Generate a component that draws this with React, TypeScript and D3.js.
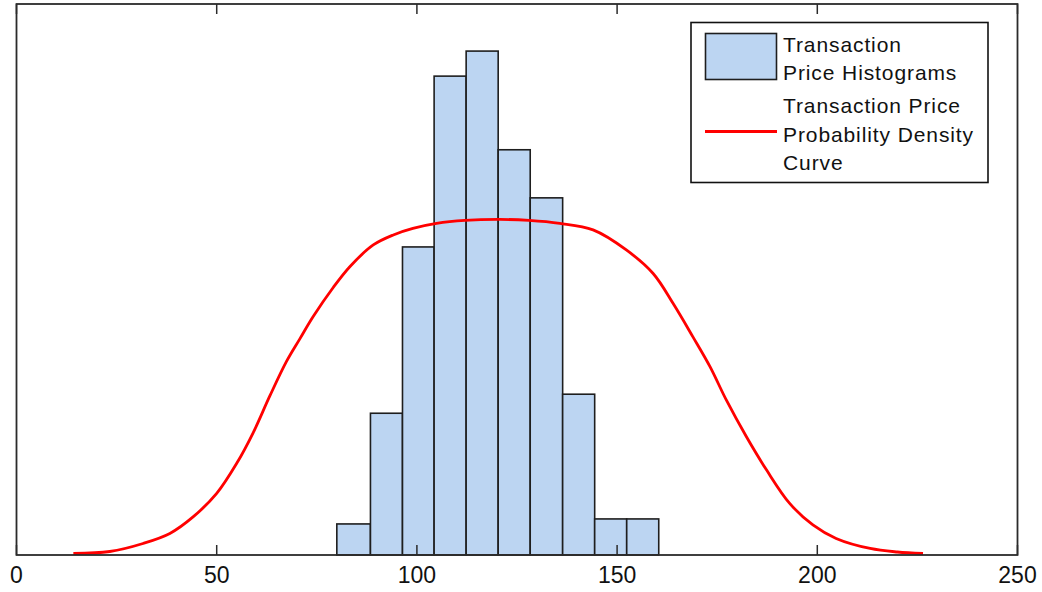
import React from "react";
import * as d3 from "d3";

const binEdges = [80, 88.4, 96.4, 104.3, 112.3, 120.3, 128.3, 136.4, 144.4, 152.4, 160.4];
const binCounts = [6.2, 28.3, 61.5, 95.6, 100.6, 80.9, 71.3, 32.1, 7.2, 7.2];

const curveX = [14.2, 23.3, 31.6, 38.3, 44.1, 50.0, 55.0, 59.1, 63.3, 67.4, 70.8, 74.1, 79.1, 83.3, 89.1, 94.1, 99.0, 104.9, 112.0, 120.7, 128.0, 135.7, 144.0, 152.3, 159.0, 164.0, 168.9, 173.2, 177.3, 182.3, 187.3, 193.1, 198.9, 204.7, 213.2, 220.0, 226.4];
const curveY = [0.3, 0.7, 2.3, 4.3, 7.6, 12.3, 18.3, 24.4, 31.8, 38.6, 43.2, 47.6, 53.4, 57.6, 61.9, 63.9, 65.2, 66.2, 66.8, 67.0, 66.8, 66.2, 64.9, 60.9, 56.2, 50.2, 43.6, 37.6, 30.9, 23.6, 17.0, 10.3, 6.0, 3.3, 1.3, 0.6, 0.3];

const xTicks = [0, 50, 100, 150, 200, 250];
const xDomain = [0, 250];
const yDomain = [0, 110];

const legendLabels = [
  ["Transaction", "Price Histograms"],
  ["Transaction Price", "Probability Density", "Curve"],
];

const W = 1042;
const H = 592;
const L = 16.5, R = 1017.5, T = 4, B = 555;

export default function App() {
  const x = d3.scaleLinear().domain(xDomain).range([L, R]);
  const y = d3.scaleLinear().domain(yDomain).range([B, T]);
  const line = d3
    .line<number>()
    .x((_, i) => x(curveX[i]))
    .y((d) => y(d))
    .curve(d3.curveCatmullRom.alpha(0.5));

  const frame = "#2b2b2b";
  const font = "'Liberation Sans', Arial, sans-serif";
  const lx = 691, ly = 22.5, lw = 297, lh = 160;

  return (
    <svg
      width={W}
      height={H}
      style={{ position: "absolute", left: 0, top: 0, background: "#fff" }}
    >
      <rect x={0} y={0} width={W} height={H} fill="#fff" />
      {binCounts.map((c, i) => (
        <rect
          key={i}
          x={x(binEdges[i])}
          y={y(c)}
          width={x(binEdges[i + 1]) - x(binEdges[i])}
          height={y(0) - y(c)}
          fill="#bcd5f2"
          stroke="#1e1e1e"
          strokeWidth={1.6}
        />
      ))}
      <path d={line(curveY) || ""} fill="none" stroke="#ff0000" strokeWidth={2.8} />
      <rect x={L} y={T} width={R - L} height={B - T} fill="none" stroke={frame} strokeWidth={1.8} />
      {xTicks.map((t) => (
        <g key={t}>
          <line x1={x(t)} x2={x(t)} y1={B} y2={B - 10} stroke={frame} strokeWidth={1.5} />
          <line x1={x(t)} x2={x(t)} y1={T} y2={T + 10} stroke={frame} strokeWidth={1.5} />
          <text
            x={x(t)}
            y={583}
            textAnchor="middle"
            fontFamily={font}
            fontSize={23}
            fill="#111"
          >
            {t}
          </text>
        </g>
      ))}
      <rect x={lx} y={ly} width={lw} height={lh} fill="#fff" stroke="#111" strokeWidth={1.6} />
      <rect x={705.5} y={33.5} width={71} height={46} fill="#bcd5f2" stroke="#1e1e1e" strokeWidth={1.6} />
      <line x1={705} x2={777} y1={131.5} y2={131.5} stroke="#ff0000" strokeWidth={3} />
      {legendLabels[0].map((s, i) => (
        <text key={"a" + i} x={783} y={51.5 + i * 28} fontFamily={font} fontSize={21} letterSpacing={0.9} fill="#111">
          {s}
        </text>
      ))}
      {legendLabels[1].map((s, i) => (
        <text key={"b" + i} x={783} y={113 + i * 28.5} fontFamily={font} fontSize={21} letterSpacing={0.9} fill="#111">
          {s}
        </text>
      ))}
    </svg>
  );
}
